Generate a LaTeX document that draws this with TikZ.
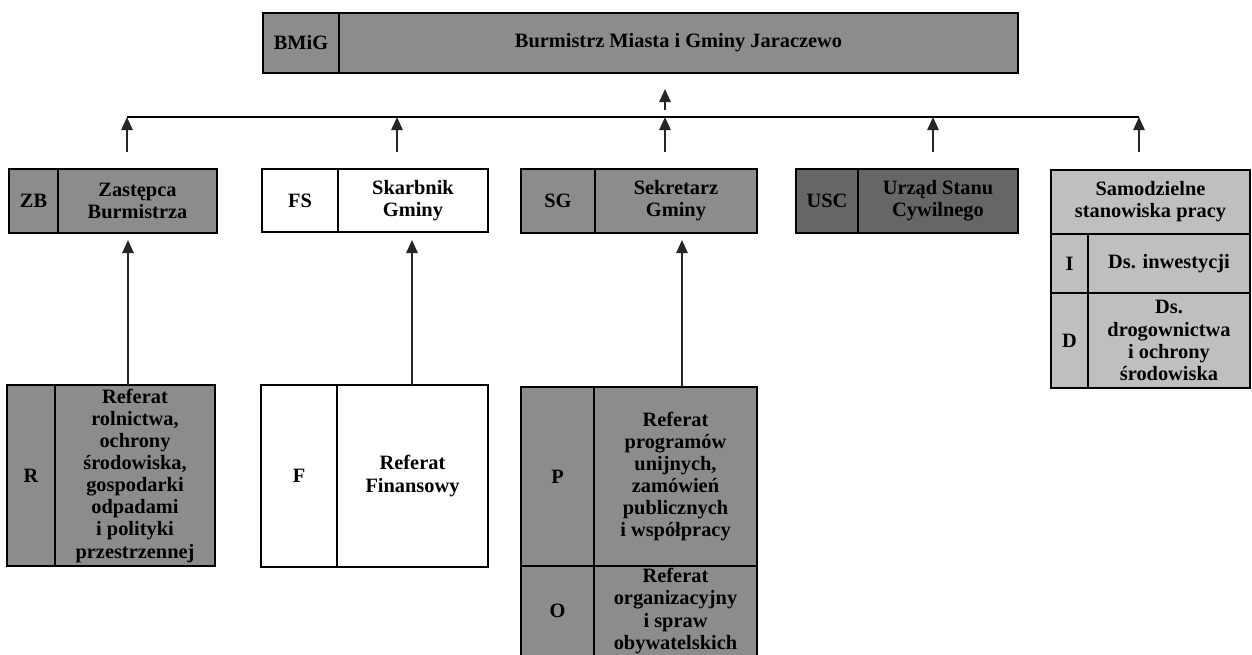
\documentclass[tikz,border=0pt]{standalone}
\usepackage{fontspec}
\setmainfont{Liberation Serif}
\usetikzlibrary{positioning,arrows.meta}

\tikzset{
  cell/.style={draw, line width=1.6pt, inner sep=0pt, outer sep=0pt, align=center,
    font=\fontsize{11.6}{12.6}\selectfont\bfseries},
  boxw/.style={minimum width=#1*0.02cm},
  boxh/.style={minimum height=#1*0.02cm},
  greycell/.style={fill=black!45},
  darkcell/.style={fill=black!60},
  lightcell/.style={fill=black!25},
  uparrow/.style={line width=1.1pt, draw=black!85, -{Triangle[width=6.5pt,length=7.5pt]}},
  busline/.style={line width=1.4pt},
}

\begin{document}
\begin{tikzpicture}[x=0.02cm, y=-0.02cm]
    \useasboundingbox (0,0) rectangle (1252,654);

    % burmistrz
    \node[cell, greycell, boxw=76, boxh=60, anchor=north west] (bmig) at (263,13) {BMiG};
    \node[cell, greycell, boxw=679, boxh=60, right=0pt of bmig] (bmigt) {Burmistrz Miasta i Gminy Jaraczewo};

    % second row
    \node[cell, greycell, boxw=49, boxh=64, anchor=north west] (zb) at (9,169) {ZB};
    \node[cell, greycell, boxw=159, boxh=64, right=0pt of zb] (zbt) {Zastępca\\Burmistrza};

    \node[cell, fill=white, boxw=76, boxh=63, anchor=north west] (fs) at (262,169) {FS};
    \node[cell, fill=white, boxw=150, boxh=63, right=0pt of fs] (fst) {Skarbnik\\Gminy};

    \node[cell, greycell, boxw=74, boxh=64, anchor=north west] (sg) at (521,169) {SG};
    \node[cell, greycell, boxw=162, boxh=64, right=0pt of sg] (sgt) {Sekretarz\\Gminy};

    \node[cell, darkcell, boxw=62, boxh=64, anchor=north west] (usc) at (796,169) {USC};
    \node[cell, darkcell, boxw=160, boxh=64, right=0pt of usc] (usct) {Urząd Stanu\\Cywilnego};

    \node[cell, lightcell, boxw=199, boxh=64, anchor=north west] (sam) at (1051,170) {Samodzielne\\stanowiska pracy};
    \node[cell, lightcell, boxw=37, boxh=59, anchor=north west] (inw) at (sam.south west) {I};
    \node[cell, lightcell, boxw=162, boxh=59, right=0pt of inw] (inwt) {Ds. inwestycji};
    \node[cell, lightcell, boxw=37, boxh=95, below=0pt of inw] (drg) {D};
    \node[cell, lightcell, boxw=162, boxh=95, right=0pt of drg] (drgt) {Ds.\\drogownictwa\\i ochrony\\środowiska};

    % referaty
    \node[cell, greycell, boxw=48, boxh=181, anchor=north west] (rol) at (7,385) {R};
    \node[cell, greycell, boxw=160, boxh=181, right=0pt of rol] (rolt) {Referat\\rolnictwa,\\ochrony\\środowiska,\\gospodarki\\odpadami\\i polityki\\przestrzennej};

    \node[cell, fill=white, boxw=76, boxh=182, anchor=north west] (fin) at (261,385) {F};
    \node[cell, fill=white, boxw=151, boxh=182, right=0pt of fin] (fint) {Referat\\Finansowy};

    \node[cell, greycell, boxw=73, boxh=179, anchor=north west] (prg) at (521,387) {P};
    \node[cell, greycell, boxw=163, boxh=179, right=0pt of prg] (prgt) {Referat\\programów\\unijnych,\\zamówień\\publicznych\\i współpracy};
    \node[cell, greycell, boxw=73, boxh=90, below=0pt of prg] (org) {O};
    \node[cell, greycell, boxw=163, boxh=90, right=0pt of org] (orgt) {Referat\\organizacyjny\\i spraw\\obywatelskich};

    % connectors
    \coordinate (busl) at (127,117);
    \coordinate (busr) at (1139,117);
    \draw[busline] (busl) -- (busr);

    \coordinate (topa) at (665,110);
    \coordinate (topb) at (665,89);
    \draw[uparrow] (topa) -- (topb);

    \coordinate (zbup) at (127,152);
    \coordinate (fsup) at (397,152);
    \coordinate (sgup) at (665,152);
    \coordinate (uscup) at (933,152);
    \coordinate (samup) at (1139,152);
    \draw[uparrow] (zbup) -- (zbup |- busl);
    \draw[uparrow] (fsup) -- (fsup |- busl);
    \draw[uparrow] (sgup) -- (sgup |- busl);
    \draw[uparrow] (uscup) -- (uscup |- busl);
    \draw[uparrow] (samup) -- (samup |- busl);

    \coordinate (zbin) at (128,240);
    \coordinate (fsin) at (412,240);
    \coordinate (sgin) at (682,240);
    \draw[uparrow] (zbin |- rolt.north) -- (zbin);
    \draw[uparrow] (fsin |- fint.north) -- (fsin);
    \draw[uparrow] (sgin |- prgt.north) -- (sgin);
\end{tikzpicture}
\end{document}
